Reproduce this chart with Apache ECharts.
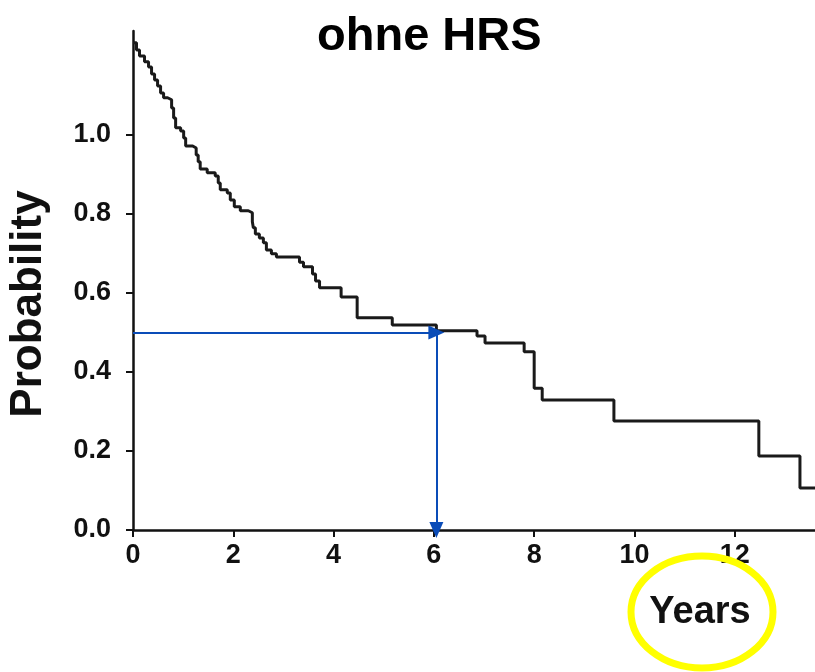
<!DOCTYPE html>
<html>
<head>
<meta charset="utf-8">
<script src="https://cdn.jsdelivr.net/npm/echarts@6/dist/echarts.min.js"></script>
<style>
html,body{margin:0;padding:0;background:#fff;}
#c{width:815px;height:672px;}
</style>
</head>
<body>
<div id="c"></div>
<script>
// ---- data ----
const titleText = 'ohne HRS';
const yAxisTitle = 'Probability';
const xAxisTitle = 'Years';
const timesYears = [0, 0.07, 0.13, 0.23, 0.31, 0.37, 0.43, 0.49, 0.55, 0.61, 0.69, 0.77, 0.81, 0.85, 0.95, 1.01, 1.05, 1.19, 1.26, 1.30, 1.34, 1.48, 1.64, 1.70, 1.74, 1.88, 1.94, 2.02, 2.14, 2.30, 2.38, 2.40, 2.44, 2.52, 2.60, 2.66, 2.76, 2.86, 3.32, 3.40, 3.58, 3.64, 3.72, 4.15, 4.47, 5.17, 6.05, 6.86, 7.02, 7.80, 8.00, 8.16, 9.59, 12.48, 13.30, 13.60];
const survival   = [1.233, 1.215, 1.200, 1.185, 1.172, 1.154, 1.139, 1.124, 1.106, 1.094, 1.089, 1.068, 1.043, 1.018, 1.010, 0.992, 0.972, 0.967, 0.949, 0.932, 0.914, 0.904, 0.896, 0.878, 0.861, 0.853, 0.835, 0.818, 0.808, 0.803, 0.780, 0.765, 0.749, 0.739, 0.727, 0.709, 0.699, 0.691, 0.678, 0.666, 0.648, 0.630, 0.613, 0.590, 0.537, 0.519, 0.504, 0.491, 0.473, 0.451, 0.359, 0.329, 0.276, 0.187, 0.106, 0.106];
const xTickValues = [0, 2, 4, 6, 8, 10, 12];
const yTickValues = [0, 0.2, 0.4, 0.6, 0.8, 1.0];
const medianTime = 6.05;
const medianProb = 0.5;
const xMax = 13.6;
const yMax = 1.263;

const curve = timesYears.map((t, i) => [t, survival[i]]);

const chart = echarts.init(document.getElementById('c'), null, {renderer: 'canvas'});
const FONT = 'Liberation Sans, Arial, sans-serif';
const blue = '#0a4cb8';

chart.setOption({
  animation: false,
  backgroundColor: '#ffffff',
  title: {
    text: titleText,
    left: 312,
    top: 9,
    textStyle: {fontFamily: FONT, fontWeight: 'bold', fontSize: 47, color: '#000'}
  },
  grid: {left: 133, right: 0, top: 31, bottom: 142, containLabel: false, outerBoundsMode: 'none'},
  xAxis: {
    type: 'value',
    min: 0,
    max: xMax,
    axisLine: {show: true, lineStyle: {color: '#111', width: 2.5}},
    axisTick: {show: true, customValues: xTickValues, length: 7, lineStyle: {color: '#111', width: 2}},
    axisLabel: {
      customValues: xTickValues,
      margin: 12,
      fontFamily: FONT, fontWeight: 'bold', fontSize: 27, color: '#111',
      formatter: v => String(v)
    },
    splitLine: {show: false}
  },
  yAxis: {
    type: 'value',
    min: 0,
    max: yMax,
    axisLine: {show: true, lineStyle: {color: '#111', width: 2.5}},
    axisTick: {show: true, customValues: yTickValues, length: 7, lineStyle: {color: '#111', width: 2}},
    axisLabel: {
      customValues: yTickValues,
      margin: 22,
      padding: [0, 0, 14, 0],
      fontFamily: FONT, fontWeight: 'bold', fontSize: 27, color: '#111',
      formatter: v => v.toFixed(1)
    },
    splitLine: {show: false}
  },
  series: [{
    type: 'line',
    data: curve,
    step: 'end',
    showSymbol: false,
    symbol: 'none',
    lineStyle: {color: '#1a1a1a', width: 3},
    markLine: {
      silent: true,
      symbol: ['none', 'triangle'],
      symbolSize: [14, 16],
      label: {show: false},
      lineStyle: {color: blue, width: 2, type: 'solid'},
      data: [
        [{coord: [0, medianProb]}, {coord: [medianTime, medianProb]}],
        [{coord: [medianTime, medianProb]}, {coord: [medianTime, 0]}]
      ]
    }
  }],
  graphic: [
    {
      type: 'text',
      x: 29, y: 304,
      rotation: Math.PI / 2,
      style: {text: yAxisTitle, fontFamily: FONT, fontWeight: 'bold', fontSize: 44, fill: '#111', align: 'center', verticalAlign: 'middle'}
    },
    {
      type: 'text',
      x: 700, y: 613,
      style: {text: xAxisTitle, fontFamily: FONT, fontWeight: 'bold', fontSize: 38, fill: '#111', align: 'center', verticalAlign: 'middle'}
    },
    {
      type: 'ellipse',
      shape: {cx: 702, cy: 612, rx: 71, ry: 56},
      style: {fill: 'none', stroke: '#ffff00', lineWidth: 7},
      z: 100
    }
  ]
});
</script>
</body>
</html>
